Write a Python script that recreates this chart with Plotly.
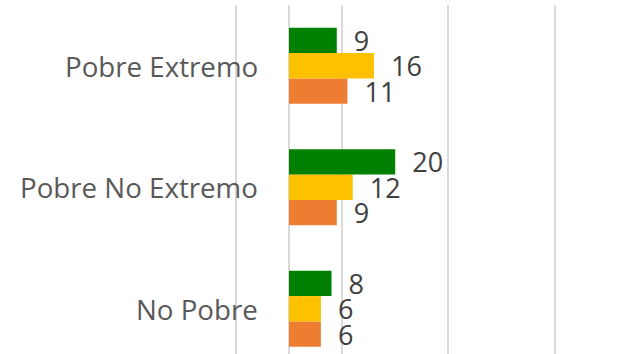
import plotly.graph_objects as go

# Categories (top to bottom as displayed) and series values
categories = ["Pobre Extremo", "Pobre No Extremo", "No Pobre"]
serie_verde = [9, 20, 8]
serie_amarilla = [16, 12, 6]
serie_naranja = [11, 9, 6]

# Vertical gridline positions on the value axis
grid_vals = [-10, 0, 10, 30, 50]

colors = {"verde": "#008000", "amarilla": "#FFC000", "naranja": "#ED7D31"}

fig = go.Figure()

# Plotly stacks grouped horizontal bars bottom-up, so add the bottom series first
for name, vals in [("naranja", serie_naranja), ("amarilla", serie_amarilla), ("verde", serie_verde)]:
    fig.add_trace(go.Bar(
        y=categories,
        x=vals,
        orientation="h",
        name=name,
        marker=dict(color=colors[name], line=dict(width=0)),
        text=[f"\u00a0\u00a0{v}" for v in vals],
        textposition="outside",
        textfont=dict(family="Open Sans", size=27, color="#404040"),
        constraintext="none",
        cliponaxis=False,
        showlegend=False,
        hoverinfo="skip",
    ))

# Category labels drawn right-aligned, overlapping the leftmost gridline
for cat in categories:
    fig.add_annotation(
        x=260 / 643, xref="paper", xanchor="right",
        y=cat, yref="y", yanchor="middle",
        text=cat, showarrow=False,
        font=dict(family="Open Sans", size=27.7, color="#595959"),
    )

fig.update_layout(
    width=643, height=354,
    margin=dict(l=0, r=0, t=5, b=0),
    paper_bgcolor="white", plot_bgcolor="white",
    barmode="group", bargap=0.375, bargroupgap=0,
    xaxis=dict(
        range=[-289 / 5.31, (643 - 289) / 5.31],
        tickvals=grid_vals, showticklabels=False,
        showgrid=True, gridcolor="#d9d9d9", gridwidth=1.5,
        zeroline=False, showline=False, ticks="",
    ),
    yaxis=dict(
        type="category",
        categoryorder="array",
        categoryarray=categories[::-1],
        range=[2.5 - 349 / 121.5, 2.5],
        showticklabels=False, showgrid=False, zeroline=False, ticks="",
    ),
)

fig.write_html("out.html")
